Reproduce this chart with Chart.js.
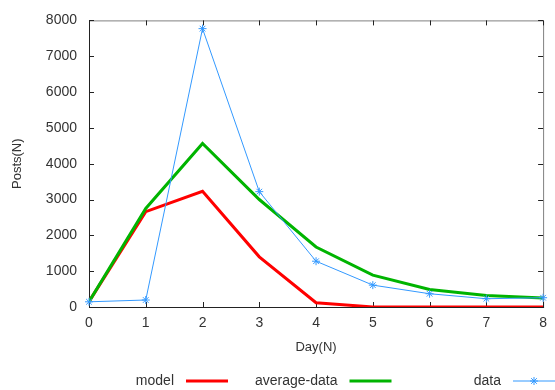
<!DOCTYPE html>
<html>
<head>
<meta charset="utf-8">
<script src="https://cdn.jsdelivr.net/npm/chart.js@4.4.1/dist/chart.umd.min.js"></script>
<style>
  html, body { margin: 0; padding: 0; background: #fff; }
  #wrap { width: 555px; height: 390px; }
</style>
</head>
<body>
<div id="wrap"><canvas id="c" width="555" height="390"></canvas></div>
<script>
const days = [0, 1, 2, 3, 4, 5, 6, 7, 8];
const modelValues = [150, 2660, 3230, 1400, 120, 0, 0, 0, 0];
const averageValues = [150, 2750, 4565, 3000, 1675, 890, 490, 320, 250];
const dataValues = [145, 195, 7770, 3220, 1278, 611, 370, 231, 259];
const seriesLabels = ['model', 'average-data', 'data'];
const seriesColors = ['#ff0000', '#00b400', '#3399ff'];
const xTitle = 'Day(N)';
const yTitle = 'Posts(N)';

const pts = vals => days.map((d, i) => ({ x: d, y: vals[i] }));
const FONT = 'Liberation Sans, Arial, sans-serif';

const framePlugin = {
  id: 'frame',
  beforeDatasetsDraw(chart) {
    const { ctx, chartArea: a, scales: { x, y } } = chart;
    ctx.save();
    ctx.lineWidth = 1;
    ctx.strokeStyle = '#808080';
    ctx.beginPath();
    ctx.moveTo(a.left, a.top + 0.5); ctx.lineTo(a.right + 0.5, a.top + 0.5);
    ctx.lineTo(a.right + 0.5, a.bottom);
    ctx.stroke();
    ctx.strokeStyle = '#222';
    ctx.beginPath();
    ctx.moveTo(a.left + 0.5, a.top); ctx.lineTo(a.left + 0.5, a.bottom + 0.5);
    ctx.lineTo(a.right + 1, a.bottom + 0.5);
    ctx.stroke();
    const tl = 5;
    ctx.beginPath();
    x.ticks.forEach(t => {
      const px = Math.round(x.getPixelForValue(t.value)) + 0.5;
      ctx.moveTo(px, a.bottom); ctx.lineTo(px, a.bottom - tl);
      ctx.moveTo(px, a.top); ctx.lineTo(px, a.top + tl);
    });
    y.ticks.forEach(t => {
      const py = Math.round(y.getPixelForValue(t.value)) + 0.5;
      ctx.moveTo(a.left, py); ctx.lineTo(a.left + tl, py);
      ctx.moveTo(a.right, py); ctx.lineTo(a.right - tl, py);
    });
    ctx.stroke();
    ctx.restore();
  }
};

const keyPlugin = {
  id: 'gkey',
  afterDraw(chart) {
    const { ctx } = chart;
    const ds = chart.data.datasets;
    const firstSample = 186, colStep = 163.5, sampleLen = 42, keyY = 381;
    ctx.save();
    ctx.font = '14px ' + FONT;
    ctx.textAlign = 'right';
    ctx.textBaseline = 'middle';
    ds.forEach((d, i) => {
      const sx = firstSample + i * colStep;
      ctx.fillStyle = '#333';
      ctx.fillText(d.label, sx - 12, keyY);
      ctx.strokeStyle = d.borderColor;
      ctx.lineWidth = d.borderWidth;
      ctx.beginPath();
      ctx.moveTo(sx, keyY); ctx.lineTo(sx + sampleLen, keyY);
      ctx.stroke();
      if (d.pointRadius > 0) {
        Chart.helpers.drawPoint(ctx, {
          pointStyle: d.pointStyle, radius: d.pointRadius, borderWidth: 1
        }, sx + sampleLen / 2, keyY);
      }
    });
    ctx.restore();
  }
};

new Chart(document.getElementById('c'), {
  type: 'line',
  data: {
    datasets: [
      { label: seriesLabels[0], data: pts(modelValues), borderColor: seriesColors[0],
        backgroundColor: seriesColors[0], borderWidth: 3, pointRadius: 0, order: 2 },
      { label: seriesLabels[1], data: pts(averageValues), borderColor: seriesColors[1],
        backgroundColor: seriesColors[1], borderWidth: 3, pointRadius: 0, order: 1 },
      { label: seriesLabels[2], data: pts(dataValues), borderColor: seriesColors[2],
        backgroundColor: seriesColors[2], borderWidth: 1, pointRadius: 4,
        pointStyle: 'star', pointBorderWidth: 1, clip: false, order: 0 }
    ]
  },
  options: {
    responsive: false,
    animation: false,
    events: [],
    layout: { padding: { left: 0, right: 9, top: 19, bottom: 35 } },
    plugins: { legend: { display: false }, tooltip: { enabled: false } },
    elements: { line: { tension: 0 } },
    scales: {
      x: {
        type: 'linear', min: 0, max: 8,
        ticks: { stepSize: 1, color: '#333', padding: 8, font: { family: FONT, size: 14 },
                 callback: v => String(v) },
        grid: { display: false, drawTicks: false },
        border: { display: false },
        title: { display: true, text: xTitle, color: '#333', padding: { top: 0, bottom: 0 },
                 font: { family: FONT, size: 13 } },
        afterFit(s) { s.height = 48; }
      },
      y: {
        min: 0, max: 8000,
        ticks: { stepSize: 1000, color: '#333', padding: 12, font: { family: FONT, size: 14 },
                 callback: v => String(v) },
        grid: { display: false, drawTicks: false },
        border: { display: false },
        title: { display: true, text: yTitle, color: '#333', padding: { top: 10, bottom: 0 },
                 font: { family: FONT, size: 13 } },
        afterFit(s) { s.width = 89; }
      }
    }
  },
  plugins: [framePlugin, keyPlugin]
});
</script>
</body>
</html>
